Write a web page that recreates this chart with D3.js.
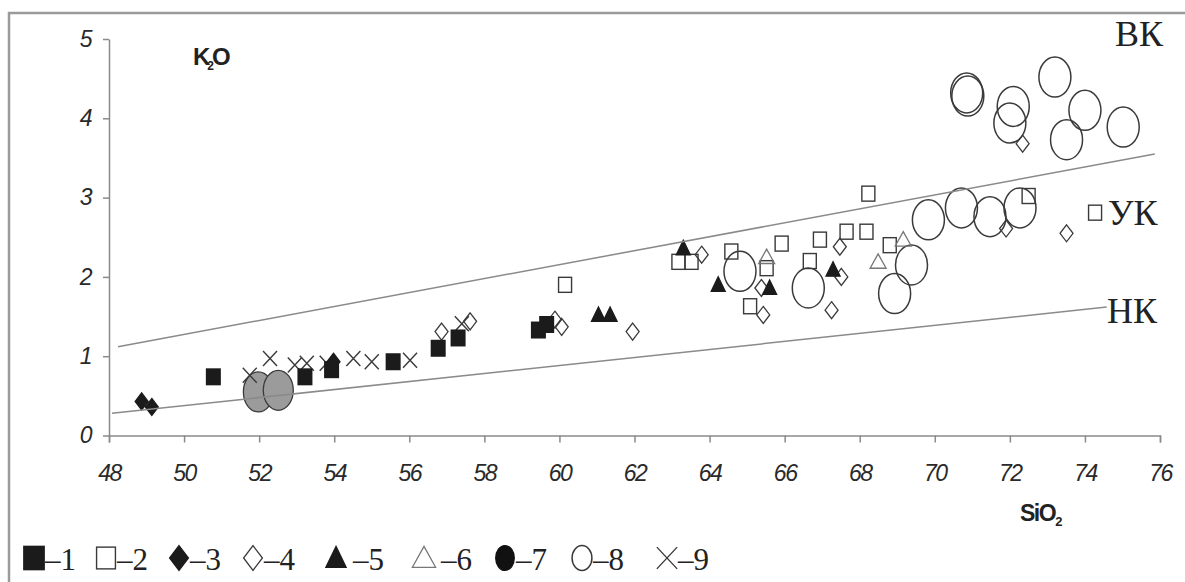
<!DOCTYPE html>
<html>
<head>
<meta charset="utf-8">
<script src="https://cdn.jsdelivr.net/npm/d3@7"></script>
<style>
  body { margin: 0; background: #fff; }
</style>
</head>
<body>
<svg id="vis" width="1185" height="582"></svg>
<script>
// SiO2 (x) and K2O (y) for each group
// 1 - filled square
const sio2_1 = [50.78, 53.22, 53.93, 55.57, 56.77, 57.30, 59.44, 59.66];
const k2o_1  = [0.74, 0.74, 0.83, 0.93, 1.10, 1.23, 1.33, 1.40];
// 2 - open square
const sio2_2 = [60.15, 63.17, 63.52, 64.58, 65.52, 65.08, 65.92, 66.67, 66.94, 67.65, 68.18, 68.23, 68.80, 72.50, 74.27];
const k2o_2  = [1.90, 2.19, 2.19, 2.32, 2.11, 1.63, 2.42, 2.20, 2.47, 2.57, 2.57, 3.05, 2.40, 3.02, 2.81];
// 3 - filled diamond
const sio2_3 = [48.87, 49.14, 53.98];
const k2o_3  = [0.43, 0.36, 0.93];
// 4 - open diamond
const sio2_4 = [56.86, 57.62, 59.88, 60.06, 61.95, 63.79, 65.38, 65.43, 67.25, 67.51, 67.47, 71.90, 72.34, 73.51];
const k2o_4  = [1.31, 1.44, 1.46, 1.37, 1.31, 2.28, 1.86, 1.52, 1.58, 2.00, 2.38, 2.61, 3.68, 2.55];
// 5 - filled triangle
const sio2_5 = [61.04, 61.35, 63.30, 64.23, 65.60, 67.29];
const k2o_5  = [1.52, 1.52, 2.36, 1.90, 1.86, 2.09];
// 6 - open triangle
const sio2_6 = [65.52, 68.49, 69.16];
const k2o_6  = [2.25, 2.19, 2.47];
// 7 - grey circle
const sio2_7 = [51.98, 52.51];
const k2o_7  = [0.55, 0.57];
// 8 - open circle
const sio2_8 = [64.81, 66.63, 68.93, 69.38, 69.83, 70.71, 71.47, 72.27, 70.85, 70.88, 72.09, 72.00, 73.20, 74.00, 73.51, 75.02];
const k2o_8  = [2.07, 1.86, 1.79, 2.15, 2.72, 2.87, 2.76, 2.87, 4.32, 4.28, 4.15, 3.94, 4.52, 4.10, 3.73, 3.89];
// 9 - cross
const sio2_9 = [51.75, 52.29, 52.95, 53.27, 53.80, 54.51, 55.00, 56.02, 57.40];
const k2o_9  = [0.76, 0.97, 0.89, 0.91, 0.91, 0.97, 0.93, 0.95, 1.41];

// boundary lines (ends)
const lineHigh_x = [48.24, 75.86];
const lineHigh_y = [1.12, 3.55];
const lineLow_x = [48.08, 74.58];
const lineLow_y = [0.28, 1.62];

const xTicks = [48, 50, 52, 54, 56, 58, 60, 62, 64, 66, 68, 70, 72, 74, 76];
const yTicks = [0, 1, 2, 3, 4, 5];
const legendLabels = ["1", "2", "3", "4", "5", "6", "7", "8", "9"];
const seriesTypes = ["sqF", "sqO", "diF", "diO", "trF", "trO", "ciG", "ciO", "x"];

const svg = d3.select("#vis");
const x = d3.scaleLinear().domain([48, 76]).range([109, 1160]);
const y = d3.scaleLinear().domain([0, 5]).range([435.5, 39]);

// frame (top and left only)
svg.append("path")
    .attr("d", "M9,582V13H1185")
    .attr("fill", "none")
    .attr("stroke", "#9a9a9a")
    .attr("stroke-width", 2.5);

// axes
const gx = svg.append("g")
    .attr("transform", "translate(0," + y(0) + ")")
    .call(d3.axisBottom(x).tickValues(xTicks).tickSize(7).tickSizeOuter(7).tickPadding(22).tickFormat(d3.format("d")));
const gy = svg.append("g")
    .attr("transform", "translate(" + x(48) + ",0)")
    .call(d3.axisLeft(y).tickValues(yTicks).tickSize(6).tickSizeOuter(0).tickPadding(12).tickFormat(d3.format("d")));
[gx, gy].forEach(g => {
    g.select(".domain").attr("stroke", "#8a8a8a").attr("stroke-width", 1.5);
    g.selectAll(".tick line").attr("stroke", "#8a8a8a").attr("stroke-width", 1.5);
    g.selectAll(".tick text")
        .attr("fill", "#2a2a2a")
        .style("font-family", "Liberation Sans, Arial, sans-serif")
        .style("font-style", "italic")
        .style("font-size", "23px")
        .style("letter-spacing", "-1.5px");
});

// markers
function marker(g, type, cx, cy, k) {
    k = k || 1;
    const dark = "#1b1b1b", st = "#3a3a3a";
    if (type == "sqF") {
        g.append("rect").attr("x", cx - 7.5 * k).attr("y", cy - 8.5 * k)
            .attr("width", 15 * k).attr("height", 17 * k).attr("fill", dark);
    } else if (type == "sqO") {
        g.append("rect").attr("x", cx - 6.5 * k).attr("y", cy - 7.5 * k)
            .attr("width", 13 * k).attr("height", 15 * k)
            .attr("fill", "none").attr("stroke", st).attr("stroke-width", 1.4);
    } else if (type == "diF" || type == "diO") {
        const w = 6.5 * k, h = 8.5 * k;
        g.append("path")
            .attr("d", `M${cx},${cy - h}L${cx + w},${cy}L${cx},${cy + h}L${cx - w},${cy}Z`)
            .attr("fill", type == "diF" ? dark : "none")
            .attr("stroke", type == "diF" ? dark : st).attr("stroke-width", 1.3);
    } else if (type == "trF" || type == "trO") {
        const w = (type == "trF" ? 7 : 8) * k, h = 8 * k;
        g.append("path")
            .attr("d", `M${cx},${cy - h}L${cx + w},${cy + h * 0.8}L${cx - w},${cy + h * 0.8}Z`)
            .attr("fill", type == "trF" ? dark : "none")
            .attr("stroke", type == "trF" ? dark : "#777").attr("stroke-width", 1.3);
    } else if (type == "ciG") {
        g.append("ellipse").attr("cx", cx).attr("cy", cy).attr("rx", 15 * k).attr("ry", 20 * k)
            .attr("fill", k == 1 ? "#9b9b9b" : "#111").attr("stroke", k == 1 ? "#3a3a3a" : "#111").attr("stroke-width", 1.3);
    } else if (type == "ciO") {
        g.append("ellipse").attr("cx", cx).attr("cy", cy).attr("rx", 16 * k).attr("ry", 20 * k)
            .attr("fill", "none").attr("stroke", st).attr("stroke-width", 1.5);
    } else if (type == "x") {
        const w = 7 * k, h = 7.5 * k;
        g.append("path")
            .attr("d", `M${cx - w},${cy - h}L${cx + w},${cy + h}M${cx - w},${cy + h}L${cx + w},${cy - h}`)
            .attr("fill", "none").attr("stroke", "#3a3a3a").attr("stroke-width", 1.4);
    }
}

const seriesX = [sio2_1, sio2_2, sio2_3, sio2_4, sio2_5, sio2_6, sio2_7, sio2_8, sio2_9];
const seriesY = [k2o_1, k2o_2, k2o_3, k2o_4, k2o_5, k2o_6, k2o_7, k2o_8, k2o_9];

const pts = svg.append("g");
// draw circles first so small symbols stay visible
const order = [6, 7, 1, 3, 5, 8, 0, 2, 4];
order.forEach(s => {
    seriesX[s].forEach((v, i) => marker(pts, seriesTypes[s], x(v), y(seriesY[s][i])));
});

// boundary lines (drawn over the points like in the original)
[[lineHigh_x, lineHigh_y], [lineLow_x, lineLow_y]].forEach(l => {
    svg.append("line")
        .attr("x1", x(l[0][0])).attr("y1", y(l[1][0]))
        .attr("x2", x(l[0][1])).attr("y2", y(l[1][1]))
        .attr("stroke", "#8a8a8a").attr("stroke-width", 1.5);
});

// field labels
const serif = "Liberation Serif, Times New Roman, serif";
[["ВК", 1115, 46], ["УК", 1108, 225], ["НК", 1107, 323]].forEach(t => {
    svg.append("text").attr("x", t[1]).attr("y", t[2]).text(t[0])
        .style("font-family", serif).style("font-size", "36px").attr("fill", "#222");
});

// axis names
const k2oLabel = svg.append("text").attr("x", 193).attr("y", 65)
    .style("font-family", "Liberation Sans, Arial, sans-serif").style("font-weight", "bold")
    .style("font-size", "24px").attr("fill", "#222").style("letter-spacing", "-1px");
k2oLabel.append("tspan").text("K");
k2oLabel.append("tspan").text("2").style("font-size", "12px").attr("dx", -2).attr("dy", 5);
k2oLabel.append("tspan").text("O").attr("dx", -1).attr("dy", -5);

const sioLabel = svg.append("text").attr("x", 1020).attr("y", 521)
    .style("font-family", "Liberation Sans, Arial, sans-serif").style("font-weight", "bold")
    .style("font-size", "23px").attr("fill", "#222").style("letter-spacing", "-1.5px");
sioLabel.append("tspan").text("SiO");
sioLabel.append("tspan").text("2").style("font-size", "13px").attr("dx", 0).attr("dy", 5);

// legend
const legendX = [34, 106, 179, 253, 336, 424, 505, 582, 667];
const lg = svg.append("g");
legendLabels.forEach((lab, i) => {
    const cx = legendX[i], cy = 558;
    marker(lg, seriesTypes[i], cx, cy, seriesTypes[i] == "ciO" || seriesTypes[i] == "ciG" ? 0.62 : 1.45);
    const off = (seriesTypes[i] == "trF" || seriesTypes[i] == "trO") ? 17 : 11;
    lg.append("text").attr("x", cx + off).attr("y", 570).text("–" + lab)
        .style("font-family", serif).style("font-size", "31px").attr("fill", "#222");
});
</script>
</body>
</html>
